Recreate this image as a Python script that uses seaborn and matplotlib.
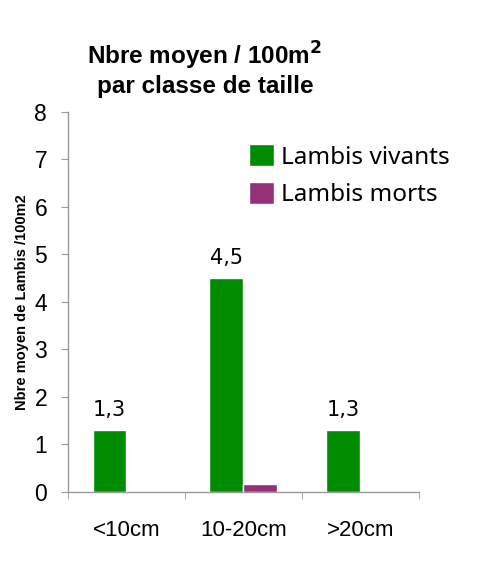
import seaborn as sns
import pandas as pd
import numpy as np
import matplotlib.pyplot as plt

categories = ['<10cm', '10-20cm', '>20cm']
vivants = [1.3, 4.5, 1.3]
morts = [0.0, 0.17, 0.0]
series = ['Lambis vivants', 'Lambis morts']
colors = ['#008C00', '#943179']

df = pd.DataFrame({
    'classe': categories * 2,
    'valeur': vivants + morts,
    'etat': [series[0]] * 3 + [series[1]] * 3,
})

sns.set_style('white')
plt.rcParams['font.family'] = ['Liberation Sans', 'DejaVu Sans']
plt.rcParams['text.color'] = 'black'
plt.rcParams['axes.labelcolor'] = 'black'
plt.rcParams['xtick.color'] = 'black'
plt.rcParams['ytick.color'] = 'black'

fig = plt.figure(figsize=(4.82, 5.68), dpi=100)
ax = fig.add_axes([0.141, 0.134, 0.728, 0.669])

sns.barplot(data=df, x='classe', y='valeur', hue='etat', palette=colors,
            width=0.58, saturation=1, ax=ax, legend=True)

# étiquettes des barres vivantes
for i, v in enumerate(vivants):
    ax.text(i - 0.145, v + 0.22, f'{v:.1f}'.replace('.', ','), ha='center', va='bottom',
            fontsize=15, family='DejaVu Sans')

ax.set_ylim(0, 8)
ax.set_xlim(-0.5, 2.5)
ax.set_yticks(range(0, 9))
ax.tick_params(axis='y', labelsize=16.5, length=5, color='#999999', labelcolor='black',
               direction='out', left=True, pad=10)
ax.set_xticks([0, 1, 2])
ax.set_xticklabels(categories, fontsize=16)
ax.tick_params(axis='x', which='major', length=0, pad=20, labelcolor='black')
ax.set_xticks([-0.5, 0.5, 1.5, 2.5], minor=True)
ax.tick_params(axis='x', which='minor', length=5, color='#999999', bottom=True)
for s in ['top', 'right']:
    ax.spines[s].set_visible(False)
for s in ['left', 'bottom']:
    ax.spines[s].set_color('#999999')
    ax.spines[s].set_linewidth(1)

ax.set_xlabel('')
ax.set_ylabel('Nbre moyen de Lambis /100m2', fontsize=10.5, fontweight='bold', labelpad=4)

leg = ax.legend(loc='upper left', bbox_to_anchor=(0.455, 0.972), frameon=False,
                handlelength=1, handleheight=1, handletextpad=0.3, labelspacing=0.5,
                prop={'family': 'Noto Sans', 'size': 17.5})

fig.text(0.425, 0.828, 'Nbre moyen / 100m$^\\mathbf{2}$\npar classe de taille',
         ha='center', va='bottom', fontsize=17.5, fontweight='bold', linespacing=1.15)

fig.savefig('out.png', dpi=100)
